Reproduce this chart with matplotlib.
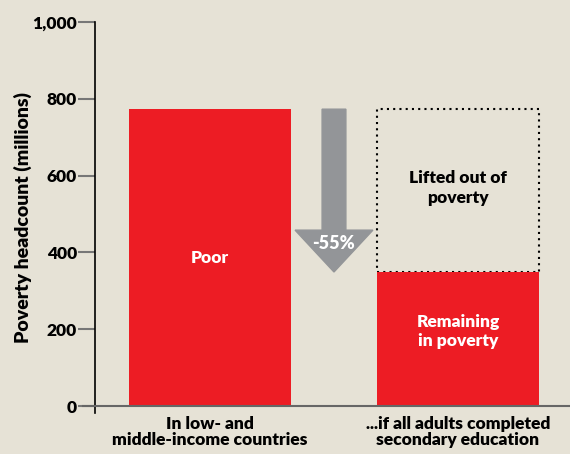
import numpy as np
import matplotlib.pyplot as plt
from matplotlib.patches import Rectangle, Polygon

# chart data
categories = ["In low- and\nmiddle-income countries", "...if all adults completed\nsecondary education"]
poor = [773, 349]
lifted = 773 - 349
change_label = "-55%"
yticks = [0, 200, 400, 600, 800, 1000]

bg = "#e6e2d6"
red = "#ed1c24"
grey = "#939598"
fw = "heavy"

plt.rcParams['font.family'] = ['Lato', 'DejaVu Sans']

fig = plt.figure(figsize=(5.7, 4.54), dpi=100, facecolor=bg)
ax = fig.add_axes([95 / 570, 1 - 413 / 454, 1 - 95 / 570, (413 - 22) / 454])
ax.set_facecolor(bg)

x = np.arange(len(categories))
w = 0.653
ax.bar(x, poor, width=w, color=red, zorder=3)

# dotted box for the lifted part
ax.add_patch(Rectangle((x[1] - w / 2, poor[1]), w, lifted, fill=False,
                       edgecolor="black", linestyle=(0, (1, 2)), linewidth=1.5, zorder=2))

# down arrow between the bars
ax_x = 0.5
shaft = 0.048
head = 0.157
head_top = 458
arrow = Polygon([(ax_x - shaft, poor[0]), (ax_x + shaft, poor[0]), (ax_x + shaft, head_top),
                 (ax_x + head, head_top), (ax_x, poor[1]), (ax_x - head, head_top),
                 (ax_x - shaft, head_top)], closed=True, color=grey, zorder=2)
ax.add_patch(arrow)
ax.text(ax_x, 423, change_label, color="white", ha="center", va="center", fontsize=13, fontweight=fw)

ax.text(x[0], 385, "Poor", color="white", ha="center", va="center", fontsize=12.5, fontweight=fw)
ax.text(x[1], 195, "Remaining\nin poverty", color="white", ha="center", va="center",
        fontsize=12.5, fontweight=fw, linespacing=1.25)
ax.text(x[1], 568, "Lifted out of\npoverty", color="black", ha="center", va="center",
        fontsize=12.5, fontweight=fw, linespacing=1.25)

ax.set_xlim(-0.464, 1.452)
ax.set_ylim(-18.2, 1000)
ax.set_yticks(yticks)
ax.set_yticklabels([f"{v:,}" for v in yticks], fontsize=12.5, fontweight=fw)
ax.tick_params(axis="y", length=12, width=1.5, color="#777777", pad=1)
ax.set_xticks(x)
ax.set_xticklabels(categories, fontsize=12.5, fontweight=fw, linespacing=1.0)
ax.tick_params(axis="x", length=0, pad=2)
ax.axhline(0, xmin=-0.026, xmax=1, color="#666666", linewidth=1.5, clip_on=False, zorder=4)

for s in ["top", "right", "bottom"]:
    ax.spines[s].set_visible(False)
ax.spines["left"].set_linewidth(1.2)

ax.set_ylabel("Poverty headcount (millions)", fontsize=14, fontweight=fw, labelpad=0)

fig.savefig("out.png", dpi=100, facecolor=bg)
